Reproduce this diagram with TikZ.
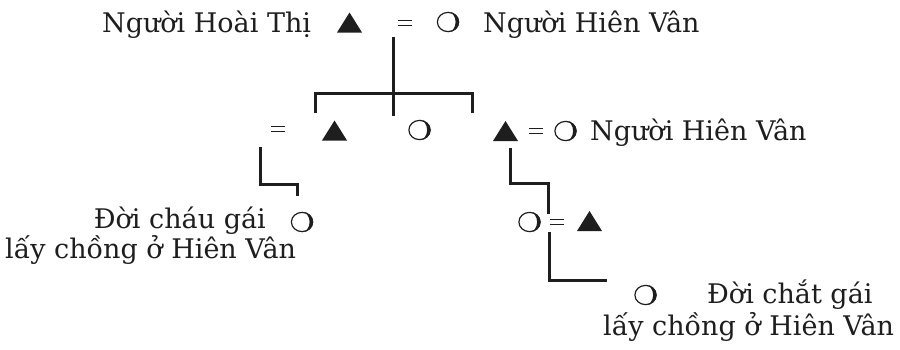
\documentclass[tikz,border=0pt]{standalone}
\usepackage{fontspec}
\setmainfont{DejaVu Serif}
\definecolor{ink}{HTML}{1E1E1E}
\begin{document}
\begin{tikzpicture}[x=1pt,y=-1pt,
  txt/.style={anchor=base west, inner sep=0pt, font=\fontsize{27}{32}\selectfont, text=ink},
  tri/.style={minimum width=25pt, minimum height=20pt, inner sep=0pt,
    path picture={\fill[ink] (path picture bounding box.south west) -- (path picture bounding box.south east) -- (path picture bounding box.north) -- cycle;}},
  circ/.style={minimum width=26pt, minimum height=22pt, inner sep=0pt,
    path picture={
      \draw[ink, line width=1.2pt] (path picture bounding box.center) ellipse[x radius=10.6pt, y radius=9.6pt];
      \fill[ink] ([yshift=-10.2pt]path picture bounding box.center) arc[start angle=-90, end angle=90, x radius=11.2pt, y radius=10.2pt] arc[start angle=90, end angle=-90, x radius=7.6pt, y radius=10.2pt] -- cycle;}},
  eqs/.style={minimum width=14pt, minimum height=9pt, inner sep=0pt,
    path picture={
      \draw[ink, line width=1.4pt] ([yshift=2.6pt]path picture bounding box.west) -- ([yshift=2.6pt]path picture bounding box.east);
      \draw[ink, line width=1.4pt] ([yshift=-2.6pt]path picture bounding box.west) -- ([yshift=-2.6pt]path picture bounding box.east);}},
  link/.style={draw=ink, line width=3pt, line cap=butt, line join=miter}
]
\useasboundingbox (0,0) rectangle (900,349);
\fill[white] (0,0) rectangle (900,349);

% top row
\node[txt] (hoai) at (102,32) {Người Hoài Thị};
\node[tri] (t1) at (349.5,22.5) {};
\node[eqs] (e1) at (405,23) {};
\node[circ] (c1) at (448,22) {};
\node[txt] (hv1) at (483,32) {Người Hiên Vân};

% second row
\node[eqs] (e2) at (278,129) {};
\node[tri] (t2) at (334.5,130.5) {};
\node[circ] (c2) at (419.5,130) {};
\node[tri] (t3) at (505.5,131) {};
\node[eqs] (e3) at (536,131) {};
\node[circ] (c3) at (565.5,131) {};
\node[txt] (hv2) at (590,140) {Người Hiên Vân};

% third row
\node[txt, anchor=base east] (chau) at (266,228) {Đời cháu gái};
\node[circ] (c4) at (302,222) {};
\node[txt] (lay1) at (5,258) {lấy chồng ở Hiên Vân};
\node[circ] (c5) at (529.5,222) {};
\node[eqs] (e4) at (557,222) {};
\node[tri] (t4) at (589.5,221) {};

% fourth row
\node[circ] (c6) at (645.5,295) {};
\node[txt] (chat) at (707,303) {Đời chắt gái};
\node[txt] (lay2) at (603,335) {lấy chồng ở Hiên Vân};

% connector points
\coordinate (top) at (393,37);
\coordinate (mid) at (393,116);
\coordinate (barL) at (315,93);
\coordinate (barR) at (472,93);
\coordinate (tickL) at (315,113);
\coordinate (tickR) at (472,113);
\coordinate (dl1) at (260,147);
\coordinate (dl2) at (297,184);
\coordinate (dl3) at (297,196);
\coordinate (dr1) at (510,148);
\coordinate (dr2) at (548,183);
\coordinate (dr3) at (548,214);
\coordinate (dd1) at (549,232);
\coordinate (dd2) at (607,280);

\draw[link] (top) -- (mid);
\draw[link] (tickL) -- (barL) -- (barR) -- (tickR);
\draw[link] (dl1) |- (dl2) -- (dl3);
\draw[link] (dr1) |- (dr2) -- (dr3);
\draw[link] (dd1) |- (dd2);
\end{tikzpicture}
\end{document}
